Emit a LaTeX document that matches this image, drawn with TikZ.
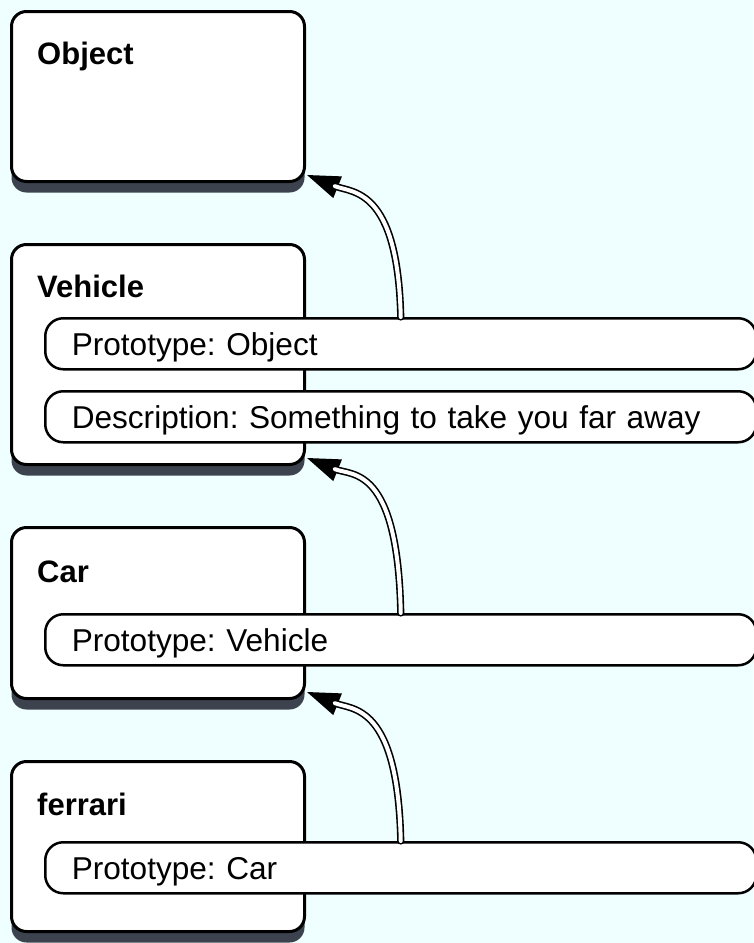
\documentclass[tikz,border=0pt]{standalone}
\usepackage{fontspec}
\setmainfont{Liberation Sans}
\usetikzlibrary{arrows.meta,shadows,calc}
\definecolor{bg}{HTML}{EFFFFF}
\definecolor{shade}{HTML}{3C434E}
\frenchspacing
\begin{document}
\begin{tikzpicture}[x=1pt,y=-1pt,
  objbox/.style={draw=black, line width=3pt, fill=white, rounded corners=15pt,
    minimum width=293pt, anchor=north west, inner sep=0pt,
    drop shadow={shadow xshift=0pt, shadow yshift=-11pt, fill=shade, opacity=1}},
  title/.style={anchor=base west, inner sep=0pt, font=\fontsize{31}{36}\selectfont\bfseries},
  slot/.style={draw=black, line width=2.5pt, fill=white, rounded corners=18pt,
    minimum width=711pt, minimum height=51pt, anchor=north west,
    inner xsep=26.5pt, inner ysep=0pt, text height=22.5pt, text depth=0pt,
    text width=658pt, align=left, font=\fontsize{31.6}{36}\selectfont\frenchspacing},
  linkline/.style={line width=1.5pt, -{Triangle[length=33pt,width=23pt]}},
  linkdouble/.style={line width=1.6pt, double=white, double distance=4pt,
    line cap=round, shorten >=30pt}
]
\useasboundingbox (0,0) rectangle (753,943);
\fill[bg] (0,0) rectangle (753,943);

% boxes
\node[objbox, minimum height=170pt] (obj) at (10,10) {};
\node[title] (objt) at (37,64) {Object};

\node[objbox, minimum height=220pt] (veh) at (10,243) {};
\node[title] (veht) at (37,297) {Vehicle};

\node[objbox, minimum height=171pt] (car) at (10,526) {};
\node[title] (cart) at (37,582) {Car};

\node[objbox, minimum height=170pt] (fer) at (10,760) {};
\node[title] (fert) at (37,815) {ferrari};

% slots
\node[slot] (p1) at (44,317) {Prototype: Object};
\node[slot] (p2) at (44,390) {Description: Something to take you far away};
\node[slot] (p3) at (44,613) {Prototype: Vehicle};
\node[slot] (p4) at (44,841) {Prototype: Car};

% tips
\coordinate (t1) at ($(obj.south east)+(1,-8)$);
\coordinate (t2) at ($(veh.south east)+(1,-8)$);
\coordinate (t3) at ($(car.south east)+(1,-8)$);

% links
\draw[linkline] (p1.north) .. controls +(-3,-130) and +(45,18) .. (t1);
\draw[linkdouble] (p1.north) .. controls +(-3,-130) and +(45,18) .. (t1);

\draw[linkline] (p3.north) .. controls +(-3,-148) and +(45,18) .. (t2);
\draw[linkdouble] (p3.north) .. controls +(-3,-148) and +(45,18) .. (t2);

\draw[linkline] (p4.north) .. controls +(-3,-138) and +(45,18) .. (t3);
\draw[linkdouble] (p4.north) .. controls +(-3,-138) and +(45,18) .. (t3);
\end{tikzpicture}
\end{document}
